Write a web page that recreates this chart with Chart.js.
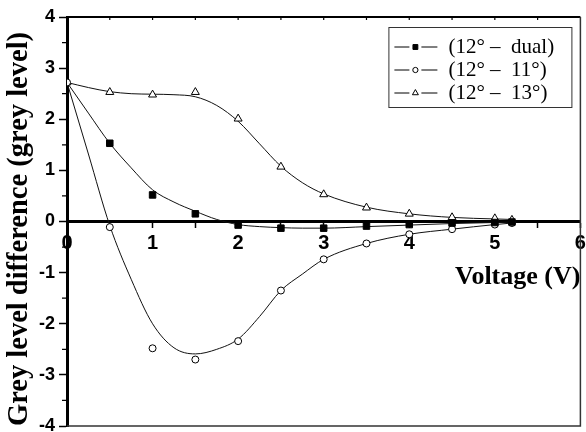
<!DOCTYPE html>
<html>
<head>
<meta charset="utf-8">
<script src="https://cdn.jsdelivr.net/npm/chart.js@4/dist/chart.umd.min.js"></script>
<style>
  html, body { margin: 0; padding: 0; background: #fff; }
  canvas { display: block; }
</style>
</head>
<body>
<canvas id="chart" width="586" height="432"></canvas>
<script>
// Measured grey-level differences against applied voltage
const measuredVoltage = [0, 0.5, 1, 1.5, 2, 2.5, 3, 3.5, 4, 4.5, 5, 5.2];
const dualMeasured  = [null, 1.53, 0.52, 0.15, -0.07, -0.13, -0.13, -0.09, -0.06, -0.03, -0.02, -0.01];
const deg11Measured = [2.72, -0.11, -2.48, -2.70, -2.34, -1.35, -0.74, -0.43, -0.25, -0.15, -0.06, -0.03];
const deg13Measured = [2.72, 2.53, 2.48, 2.53, 2.01, 1.07, 0.53, 0.27, 0.15, 0.08, 0.06, 0.03];

// Smoothed fit curves, sampled along the voltage range
const fitVoltage = [0, 0.25, 0.5, 0.75, 1, 1.25, 1.5, 1.75, 2, 2.25, 2.5, 2.75, 3, 3.5, 4, 4.5, 5, 5.2];
const dualFit  = [2.72, 2.12, 1.53, 1.05, 0.62, 0.38, 0.20, 0.04, -0.06, -0.10, -0.12, -0.13, -0.13, -0.10, -0.07, -0.04, -0.02, -0.01];
const deg11Fit = [2.72, 1.32, -0.08, -1.13, -2.00, -2.47, -2.59, -2.50, -2.30, -1.86, -1.35, -1.03, -0.74, -0.43, -0.25, -0.15, -0.06, -0.03];
const deg13Fit = [2.72, 2.62, 2.54, 2.50, 2.49, 2.48, 2.44, 2.27, 1.96, 1.52, 1.08, 0.76, 0.54, 0.28, 0.15, 0.08, 0.05, 0.04];

const seriesLabels = ['(12\u00b0 \u2013  dual)', '(12\u00b0 \u2013  11\u00b0)', '(12\u00b0 \u2013  13\u00b0)'];
const xAxisTitle = 'Voltage (V)';
const yAxisTitle = 'Grey level difference (grey level)';

const toXY = (xs, ys) => xs.map((x, i) => ({ x, y: ys[i] })).filter(p => p.y !== null);

function markerDataset(label, xs, ys, style, radius, fill) {
  return {
    label,
    data: toXY(xs, ys),
    showLine: false,
    pointStyle: style,
    pointRadius: radius,
    pointHoverRadius: radius,
    pointBackgroundColor: fill,
    pointBorderColor: '#000',
    pointBorderWidth: 1,
    legendRadius: radius * 0.75
  };
}

function curveDataset(xs, ys) {
  return {
    data: toXY(xs, ys),
    showLine: true,
    pointRadius: 0,
    borderColor: '#111',
    borderWidth: 1,
    cubicInterpolationMode: 'monotone',
    fill: false
  };
}

function drawMarker(ctx, style, radius, x, y) {
  if (Chart.helpers && Chart.helpers.drawPoint) {
    Chart.helpers.drawPoint(ctx, { pointStyle: style, radius, borderWidth: 1, rotation: 0 }, x, y);
  }
}

// Frame, inward top ticks and the short minor ticks on the value axis
const framePlugin = {
  id: 'frame',
  afterDraw(chart) {
    const { ctx, chartArea: a, scales } = chart;
    ctx.save();
    ctx.strokeStyle = '#000';
    ctx.lineWidth = 2;
    ctx.beginPath();
    ctx.moveTo(a.left, a.top); ctx.lineTo(a.right, a.top);
    ctx.stroke();
    ctx.strokeStyle = '#333';
    ctx.lineWidth = 1.5;
    ctx.beginPath();
    ctx.moveTo(a.right, a.top); ctx.lineTo(a.right, a.bottom);
    ctx.lineTo(a.left, a.bottom);
    ctx.stroke();
    ctx.strokeStyle = '#000';
    ctx.lineWidth = 1.2;
    ctx.beginPath();
    for (let v = 0.5; v < 6; v += 0.5) {
      const px = scales.x.getPixelForValue(v);
      ctx.moveTo(px, a.top); ctx.lineTo(px, a.top + 3);
    }
    for (let v = -3.5; v < 4; v += 1) {
      const py = scales.y.getPixelForValue(v);
      ctx.moveTo(a.left - 5, py); ctx.lineTo(a.left, py);
    }
    ctx.stroke();
    ctx.restore();
  }
};

// Boxed legend in the upper right of the plot
const boxLegendPlugin = {
  id: 'boxLegend',
  afterDraw(chart) {
    const { ctx, chartArea: a } = chart;
    const items = chart.data.datasets.filter(d => d.label);
    const right = a.right - 8, top = a.top + 10;
    const left = right - 184, bottom = top + 81;
    ctx.save();
    ctx.fillStyle = '#fff';
    ctx.fillRect(left, top, right - left, bottom - top);
    ctx.strokeStyle = '#333';
    ctx.lineWidth = 1;
    ctx.strokeRect(left + 0.5, top + 0.5, right - left - 1, bottom - top - 1);
    items.forEach((d, i) => {
      const y = top + 20 + i * 23;
      ctx.strokeStyle = '#000';
      ctx.lineWidth = 1;
      ctx.beginPath();
      ctx.moveTo(left + 6, y); ctx.lineTo(left + 21, y);
      ctx.moveTo(left + 33, y); ctx.lineTo(left + 49, y);
      ctx.stroke();
      ctx.fillStyle = d.pointBackgroundColor;
      ctx.strokeStyle = d.pointBorderColor;
      drawMarker(ctx, d.pointStyle, d.legendRadius, left + 27, y);
      ctx.fillStyle = '#000';
      ctx.font = '21px "Liberation Serif", "Times New Roman", serif';
      ctx.textBaseline = 'middle';
      ctx.textAlign = 'left';
      ctx.fillText(d.label, left + 60, y);
    });
    ctx.restore();
  }
};

const tickFont = { family: '"Liberation Sans", Arial, sans-serif', weight: 'bold' };
const titleFont = { family: '"Liberation Serif", "Times New Roman", serif', weight: 'bold' };

new Chart(document.getElementById('chart'), {
  type: 'scatter',
  data: {
    datasets: [
      markerDataset(seriesLabels[0], measuredVoltage, dualMeasured, 'rect', 4.6, '#000'),
      markerDataset(seriesLabels[1], measuredVoltage, deg11Measured, 'circle', 3.5, '#fff'),
      markerDataset(seriesLabels[2], measuredVoltage, deg13Measured, 'triangle', 4.6, '#fff'),
      curveDataset(fitVoltage, dualFit),
      curveDataset(fitVoltage, deg11Fit),
      curveDataset(fitVoltage, deg13Fit)
    ]
  },
  options: {
    responsive: false,
    devicePixelRatio: 1,
    animation: false,
    layout: { padding: { top: 17, right: 2, bottom: 6, left: 0 } },
    plugins: { legend: { display: false }, tooltip: { enabled: false } },
    scales: {
      x: {
        type: 'linear',
        min: 0, max: 6,
        position: { y: 0 },
        border: { display: true, color: '#000', width: 3 },
        grid: { drawOnChartArea: false, tickLength: 5, tickWidth: 1.5, tickColor: '#000' },
        ticks: {
          stepSize: 0.5, autoSkip: false, maxRotation: 0, padding: 5, color: '#000',
          font: { ...tickFont, size: 20 },
          callback: v => Number.isInteger(v) ? String(v) : ''
        },
        title: {
          display: true, text: xAxisTitle, align: 'end', color: '#000',
          font: { ...titleFont, size: 26 }, padding: { top: 1, bottom: 0 }
        },
        afterFit: s => { s.paddingLeft = 0; s.paddingRight = 0; }
      },
      y: {
        type: 'linear',
        min: -4, max: 4,
        position: 'left',
        border: { display: true, color: '#000', width: 3 },
        grid: { drawOnChartArea: false, tickLength: 8, tickWidth: 1.5, tickColor: '#000' },
        ticks: { stepSize: 1, padding: 4, color: '#000', font: { ...tickFont, size: 18 } },
        title: {
          display: true, text: yAxisTitle, align: 'start', color: '#000',
          font: { ...titleFont, size: 28.5 }, padding: { top: 3, bottom: 0 }
        },
        afterFit: s => { s.width = 67; s.paddingTop = 0; s.paddingBottom = 0; }
      }
    }
  },
  plugins: [framePlugin, boxLegendPlugin]
});
</script>
</body>
</html>
